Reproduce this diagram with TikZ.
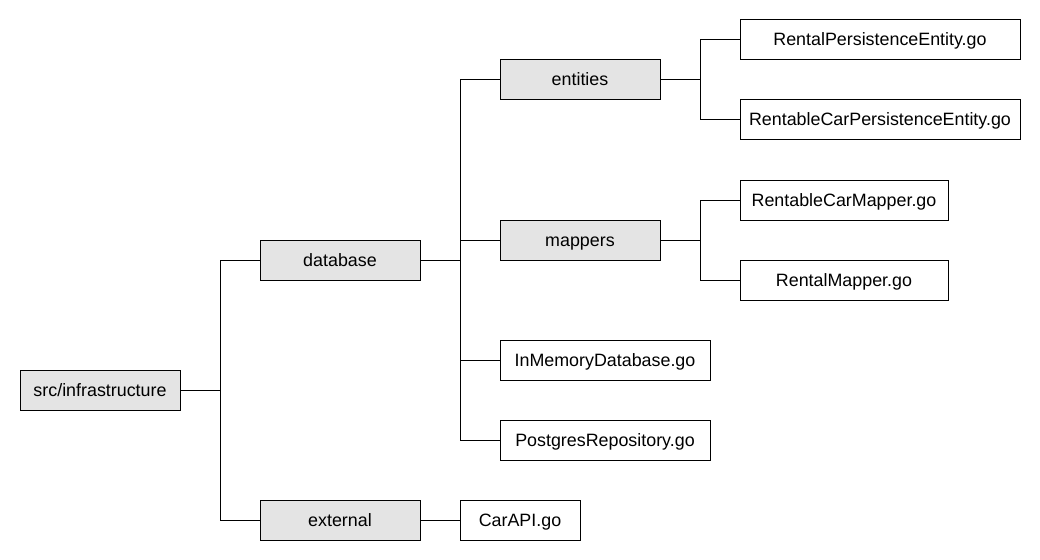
\documentclass[tikz,border=0pt]{standalone}
\usepackage{fontspec}
\setmainfont{Liberation Sans}
\definecolor{dirgray}{HTML}{E4E4E4}
\tikzset{
  folder/.style={draw, fill=dirgray, line width=0.75pt, minimum height=30pt, minimum width=120pt, inner sep=0pt, text height=9pt, text depth=0pt, font=\fontsize{13.4}{15}\selectfont},
  gofile/.style={draw, fill=white, line width=0.75pt, minimum height=30pt, inner sep=0pt, text height=9pt, text depth=0pt, font=\fontsize{13.4}{15}\selectfont},
  branch/.style={line width=0.75pt}
}
\begin{document}
\begin{tikzpicture}[x=0.75pt, y=-0.75pt]
    \useasboundingbox (0,0) rectangle (1040,560);
    % folders
    \node[folder] (src) at (100,390) {src/infrastructure};
    \node[folder] (database) at (340,260) {database};
    \node[folder] (external) at (340,520) {external};
    \node[folder] (entities) at (580,80) {entities};
    \node[folder] (mappers) at (580,240) {mappers};
    % files
    \node[gofile, minimum width=90pt] (carapi) at (520,520) {CarAPI.go};
    \node[gofile, minimum width=157.5pt] (inmemory) at (605,360) {InMemoryDatabase.go};
    \node[gofile, minimum width=157.5pt] (postgres) at (605,440) {PostgresRepository.go};
    \node[gofile, minimum width=210pt] (rentalpe) at (880,40) {RentalPersistenceEntity.go};
    \node[gofile, minimum width=210pt] (carpe) at (880,120) {RentableCarPersistenceEntity.go};
    \node[gofile, minimum width=156pt] (carmapper) at (844,200) {RentableCarMapper.go};
    \node[gofile, minimum width=156pt] (rentalmapper) at (844,280) {RentalMapper.go};
    % tree lines
    \draw[branch] (src.east) -- ++(40,0) |- (database.west);
    \draw[branch] (src.east) -- ++(40,0) |- (external.west);
    \draw[branch] (external.east) -- (carapi.west);
    \foreach \child in {entities, mappers, inmemory, postgres}
    \draw[branch] (database.east) -- ++(40,0) |- (\child.west);
    \foreach \child in {rentalpe, carpe}
    \draw[branch] (entities.east) -- ++(40,0) |- (\child.west);
    \foreach \child in {carmapper, rentalmapper}
    \draw[branch] (mappers.east) -- ++(40,0) |- (\child.west);
\end{tikzpicture}
\end{document}
